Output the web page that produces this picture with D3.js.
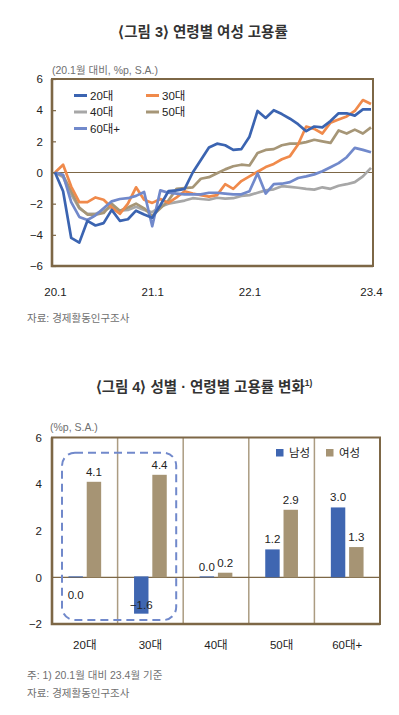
<!DOCTYPE html>
<html>
<head>
<meta charset="utf-8">
<script src="https://cdn.jsdelivr.net/npm/d3@7"></script>
<style>
  body { margin: 0; background: #fff; }
  svg text { font-family: "Liberation Sans", "Noto Sans CJK KR", sans-serif; }
</style>
</head>
<body>
<svg id="chart" width="399" height="715"></svg>
<script>
// ---- 그림 3 : 연령별 여성 고용률 (20.1월 대비, %p) ----
const ageGroups = ["20대", "30대", "40대", "50대", "60대+"];
const xTickLabels = ["20.1", "21.1", "22.1", "23.4"];

const s20 = [0, -1.2, -4.2, -4.5, -3.1, -3.4, -3.25, -2.4, -3.1, -3.0, -2.45, -2.7, -2.9, -2.1, -1.2, -1.15, -1.05, 0.0, 0.8, 1.6,
             1.85, 1.75, 1.45, 1.5, 2.3, 3.95, 3.5, 4.0, 3.75, 3.45, 3.1, 2.65, 2.95, 2.9, 3.3, 3.8, 3.8, 3.65, 4.05, 4.05];
const s30 = [0, 0.5, -0.9, -1.9, -1.9, -1.6, -1.75, -2.25, -2.65, -2.0, -0.95, -1.75, -1.95, -1.7, -1.95, -1.6, -1.2, -1.35, -1.45, -1.55,
             -1.45, -0.75, -1.05, -0.55, -0.25, 0.05, 0.35, 0.55, 0.85, 1.05, 1.8, 2.95, 2.8, 2.5, 3.2, 3.4, 3.6, 3.95, 4.65, 4.4];
const s40 = [0, -0.3, -1.4, -2.3, -2.65, -2.65, -2.45, -2.2, -2.45, -2.4, -2.2, -2.4, -2.55, -2.2, -2.0, -1.9, -1.8, -1.65, -1.7, -1.75,
             -1.62, -1.68, -1.65, -1.5, -1.45, -1.3, -1.15, -1.08, -0.88, -0.92, -0.98, -1.05, -1.1, -0.95, -1.05, -0.85, -0.75, -0.62, -0.25, 0.3];
const s50 = [0, -0.2, -1.2, -2.25, -2.7, -2.7, -2.6, -2.0, -2.45, -2.25, -2.0, -2.3, -2.8, -2.3, -1.8, -1.05, -1.0, -0.95, -0.4, -0.3,
             -0.05, 0.2, 0.4, 0.5, 0.45, 1.25, 1.45, 1.5, 1.75, 1.85, 1.85, 1.95, 2.1, 2.0, 1.9, 2.7, 2.5, 2.75, 2.5, 2.9];
const s60 = [0, -0.15, -1.9, -2.85, -3.05, -2.75, -2.3, -1.85, -1.7, -1.65, -1.5, -1.25, -3.45, -1.15, -1.3, -1.35, -1.4, -1.4, -1.4, -1.3,
             -1.3, -1.35, -1.4, -1.4, -1.2, -0.05, -1.35, -0.75, -0.72, -0.62, -0.35, -0.25, -0.12, 0.08, 0.34, 0.6, 0.98, 1.58, 1.45, 1.3];

// ---- 그림 4 : 성별·연령별 고용률 변화 (20.1월 대비 23.4월, %p) ----
const sexes = ["남성", "여성"];
const maleChange = [0.0, -1.6, 0.0, 1.2, 3.0];
const femaleChange = [4.1, 4.4, 0.2, 2.9, 1.3];

// 스타일
const lineColors = { "20대": "#3b64b1", "30대": "#f08a4b", "40대": "#a7a7a7", "50대": "#a69677", "60대+": "#7189cb" };
const barColors = { "남성": "#3f66b1", "여성": "#a69474" };
const frameColor = "#7d6746";
const sepColor = "#ab9c82";
const textColor = "#222";
const noteColor = "#6f6f6f";

const svg = d3.select("#chart");

// ===================== 그림 3 =====================
const months = d3.range(s20.length).map(i => `${20 + Math.floor(i / 12)}.${i % 12 + 1}`);
const area1 = { left: 52, right: 373, top: 79, bottom: 266 };

const x1 = d3.scalePoint().domain(months).range([55, 371]);
const y1 = d3.scaleLinear().domain([-6, 6]).range([area1.bottom, area1.top]);

svg.append("text")
    .attr("x", 203).attr("y", 37)
    .attr("text-anchor", "middle")
    .attr("font-size", 14.5).attr("font-weight", "bold")
    .attr("fill", "#333")
    .text("⟨그림 3⟩ 연령별 여성 고용률");

svg.append("text")
    .attr("x", 52).attr("y", 74)
    .attr("font-size", 10.5).attr("fill", noteColor)
    .text("(20.1월 대비, %p, S.A.)");

// y축
const yAxis1 = svg.append("g")
    .attr("transform", `translate(${area1.left},0)`)
    .call(d3.axisLeft(y1).tickValues(d3.range(-6, 7, 2)).tickSizeInner(-4).tickSizeOuter(0).tickPadding(9));
yAxis1.select(".domain").remove();
yAxis1.selectAll("line").attr("stroke", frameColor).attr("stroke-width", 1.2);
yAxis1.selectAll("text").attr("font-size", 11.5).attr("fill", textColor).attr("font-family", "Liberation Sans, sans-serif");

// x축
const xAxis1 = svg.append("g")
    .attr("transform", `translate(0,${area1.bottom})`)
    .call(d3.axisBottom(x1).tickValues(xTickLabels).tickSize(0).tickPadding(22));
xAxis1.select(".domain").remove();
xAxis1.selectAll("text").attr("font-size", 11.5).attr("fill", textColor).attr("font-family", "Liberation Sans, sans-serif");

// 0선
svg.append("line")
    .attr("x1", area1.left).attr("x2", area1.right)
    .attr("y1", y1(0)).attr("y2", y1(0))
    .attr("stroke", frameColor).attr("stroke-width", 1.2);

// 선
const seriesList = [
    { name: "40대", values: s40 },
    { name: "50대", values: s50 },
    { name: "30대", values: s30 },
    { name: "60대+", values: s60 },
    { name: "20대", values: s20 }
];
const line = d3.line().x((d, i) => x1(months[i])).y(d => y1(d));

svg.append("g").selectAll("path")
    .data(seriesList)
    .join("path")
    .attr("d", d => line(d.values))
    .attr("fill", "none")
    .attr("stroke", d => lineColors[d.name])
    .attr("stroke-width", 2.7)
    .attr("stroke-linejoin", "round");

// 테두리
svg.append("rect")
    .attr("x", area1.left).attr("y", area1.top)
    .attr("width", area1.right - area1.left).attr("height", area1.bottom - area1.top)
    .attr("fill", "none").attr("stroke", frameColor).attr("stroke-width", 2);
svg.append("path")
    .attr("d", `M${area1.left},${area1.top}V${area1.bottom}H${area1.right}`)
    .attr("fill", "none").attr("stroke", frameColor).attr("stroke-width", 2.6);

// 범례
const legendCols = [74, 146];
const legendRows = [95.5, 112, 128.5];
const legend1 = svg.append("g").selectAll("g")
    .data(ageGroups)
    .join("g")
    .attr("transform", (d, i) => `translate(${legendCols[i % 2]},${legendRows[Math.floor(i / 2)]})`);
legend1.append("line")
    .attr("x1", 0).attr("x2", 13)
    .attr("stroke", d => lineColors[d]).attr("stroke-width", 3);
legend1.append("text")
    .attr("x", 16).attr("y", 4)
    .attr("font-size", 11.5).attr("fill", textColor)
    .text(d => d);

svg.append("text")
    .attr("x", 27).attr("y", 322)
    .attr("font-size", 10.5).attr("fill", noteColor)
    .text("자료: 경제활동인구조사");

// ===================== 그림 4 =====================
const area2 = { left: 52, right: 380, top: 437.5, bottom: 624 };
const x2 = d3.scaleBand().domain(ageGroups).range([area2.left, area2.right]);
const xs = d3.scaleBand().domain(sexes).range([0, x2.bandwidth()]).paddingInner(0.21).paddingOuter(0.9);
const y2 = d3.scaleLinear().domain([-2, 6]).range([area2.bottom, area2.top]);

const title2 = svg.append("text")
    .attr("x", 204).attr("y", 392)
    .attr("text-anchor", "middle")
    .attr("font-size", 14.5).attr("font-weight", "bold")
    .attr("fill", "#333");
title2.append("tspan").text("⟨그림 4⟩ 성별 · 연령별 고용률 변화");
title2.append("tspan").attr("font-size", 8.5).attr("dy", -6).text("1)");

svg.append("text")
    .attr("x", 50).attr("y", 431)
    .attr("font-size", 10.5).attr("fill", noteColor)
    .text("(%p, S.A.)");

const yAxis2 = svg.append("g")
    .attr("transform", `translate(${area2.left},0)`)
    .call(d3.axisLeft(y2).tickValues(d3.range(-2, 7, 2)).tickSize(0).tickPadding(10));
yAxis2.select(".domain").remove();
yAxis2.selectAll("text").attr("font-size", 11.5).attr("fill", textColor).attr("font-family", "Liberation Sans, sans-serif");

// 구분선
svg.append("g").selectAll("line")
    .data(ageGroups.slice(1))
    .join("line")
    .attr("x1", d => x2(d)).attr("x2", d => x2(d))
    .attr("y1", area2.top).attr("y2", area2.bottom)
    .attr("stroke", sepColor).attr("stroke-width", 1.5);

// 0선
svg.append("line")
    .attr("x1", area2.left).attr("x2", area2.right)
    .attr("y1", y2(0)).attr("y2", y2(0))
    .attr("stroke", frameColor).attr("stroke-width", 1.3);

// 막대
const barData = ageGroups.flatMap((g, i) => [
    { group: g, sex: "남성", value: maleChange[i] },
    { group: g, sex: "여성", value: femaleChange[i] }
]);

svg.append("g").selectAll("rect")
    .data(barData)
    .join("rect")
    .attr("x", d => x2(d.group) + xs(d.sex))
    .attr("width", xs.bandwidth())
    .attr("y", d => Math.min(y2(d.value), y2(0) - 1))
    .attr("height", d => Math.max(Math.abs(y2(d.value) - y2(0)), 1))
    .attr("fill", d => barColors[d.sex]);

// 값 라벨
const highlighted = ["20대", "30대"];
svg.append("g").selectAll("text")
    .data(barData)
    .join("text")
    .attr("x", d => x2(d.group) + xs(d.sex) + xs.bandwidth() / 2)
    .attr("y", d => {
        if (d.value < 0) return y2(d.value) - 6;
        if (d.value === 0 && highlighted.includes(d.group)) return y2(0) + 22;
        return y2(d.value) - 6;
    })
    .attr("text-anchor", "middle")
    .attr("font-size", 11.5).attr("fill", textColor)
    .attr("font-family", "Liberation Sans, sans-serif")
    .text(d => d3.format(".1f")(d.value));

// 강조 점선 상자
svg.append("rect")
    .attr("x", x2("20대") + 10)
    .attr("y", y2(5.35))
    .attr("width", x2("30대") + x2.bandwidth() - 7 - (x2("20대") + 10))
    .attr("height", y2(-1.83) - y2(5.35))
    .attr("rx", 13).attr("ry", 13)
    .attr("fill", "none")
    .attr("stroke", "#7189cb").attr("stroke-width", 2)
    .attr("stroke-dasharray", "8,5");

// 테두리
svg.append("rect")
    .attr("x", area2.left).attr("y", area2.top)
    .attr("width", area2.right - area2.left).attr("height", area2.bottom - area2.top)
    .attr("fill", "none").attr("stroke", frameColor).attr("stroke-width", 2);
svg.append("path")
    .attr("d", `M${area2.left},${area2.top}V${area2.bottom}H${area2.right}`)
    .attr("fill", "none").attr("stroke", frameColor).attr("stroke-width", 2.6);

// 범례
const legend2 = svg.append("g").selectAll("g")
    .data(sexes)
    .join("g")
    .attr("transform", (d, i) => `translate(${276 + i * 50},453)`);
legend2.append("rect")
    .attr("x", 0).attr("y", -4)
    .attr("width", 7.5).attr("height", 7.5)
    .attr("fill", d => barColors[d]);
legend2.append("text")
    .attr("x", 13).attr("y", 4)
    .attr("font-size", 11.5).attr("fill", textColor)
    .text(d => d);

// x축 라벨
svg.append("g").selectAll("text")
    .data(ageGroups)
    .join("text")
    .attr("x", d => x2(d) + x2.bandwidth() / 2)
    .attr("y", 649)
    .attr("text-anchor", "middle")
    .attr("font-size", 11.5).attr("fill", textColor)
    .text(d => d);

svg.append("text")
    .attr("x", 27).attr("y", 679)
    .attr("font-size", 10.5).attr("fill", noteColor)
    .text("주: 1) 20.1월 대비 23.4월 기준");
svg.append("text")
    .attr("x", 27).attr("y", 697)
    .attr("font-size", 10.5).attr("fill", noteColor)
    .text("자료: 경제활동인구조사");
</script>
</body>
</html>
